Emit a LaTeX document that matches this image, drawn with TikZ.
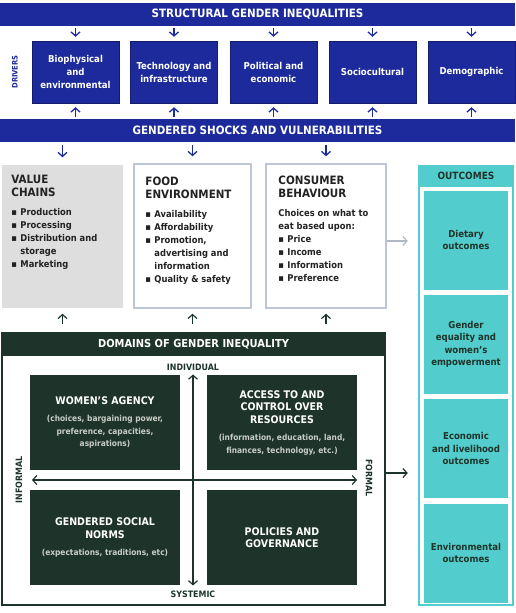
\documentclass[tikz,border=0pt]{standalone}
\usepackage{fontspec}
\setmainfont{DejaVu Sans Condensed}[BoldFont={DejaVu Sans Condensed Bold}]
\usepackage{xcolor}
\usetikzlibrary{arrows.meta, positioning, calc}
\definecolor{driverblue}{RGB}{28,42,155}
\definecolor{domaingreen}{RGB}{30,52,42}
\definecolor{outcometeal}{RGB}{82,204,204}
\definecolor{chaingray}{RGB}{222,222,222}
\definecolor{envborder}{RGB}{188,198,214}
\definecolor{bodytext}{RGB}{34,34,34}
\definecolor{subgray}{RGB}{200,205,200}
\definecolor{linkgray}{RGB}{176,184,200}

\newcommand{\itm}{\makebox[9pt][l]{▪}}
\newcommand{\itc}{\hspace*{9pt}}
\newcommand{\headfont}{\bfseries\fontsize{11.5}{12.5}\selectfont}
\newcommand{\bodyfont}{\bfseries\fontsize{9.3}{13}\selectfont}
\newcommand{\qsub}{\bfseries\fontsize{8.3}{11.5}\selectfont\color{subgray}}

\tikzset{
    bluebar/.style={fill=driverblue, text=white, minimum width=515pt, minimum height=23pt,
        font=\bfseries\fontsize{11.5}{12}\selectfont},
    drvbox/.style={fill=driverblue, draw=driverblue!70!black, text=white, minimum width=87pt,
        minimum height=62pt, font=\bfseries\fontsize{9.5}{13}\selectfont},
    bluearrow/.style={draw=driverblue, line width=1.3pt, -{Straight Barb[length=4pt,width=9pt]}},
    foodbox/.style={minimum height=144pt, line width=1.5pt},
    boxtxt/.style={anchor=north west, align=left, text=bodytext, font=\bodyfont},
    ocbox/.style={fill=outcometeal, minimum width=84pt, minimum height=99pt, text=domaingreen,
        font=\bfseries\fontsize{9.5}{12.5}\selectfont},
    quadbox/.style={fill=domaingreen, minimum width=150pt, minimum height=95pt, text=white,
        font=\bfseries\fontsize{10.5}{12.5}\selectfont},
    axislbl/.style={text=domaingreen, font=\bfseries\fontsize{8.8}{10}\selectfont},
    axisarrow/.style={draw=domaingreen, line width=1.2pt, {Straight Barb[length=4pt,width=9pt]}-{Straight Barb[length=4pt,width=9pt]}}
}

\begin{document}
\begin{tikzpicture}[x=1pt, y=-1pt, every node/.style={align=center, inner sep=0pt}]
    \useasboundingbox (0,0) rectangle (515,613);

    % Structural bars
    \node[bluebar] (sgi) at (257.5,14.5) {STRUCTURAL GENDER INEQUALITIES};
    \node[bluebar] (gsv) at (257.5,130) {GENDERED SHOCKS AND VULNERABILITIES};

    % Drivers
    \node[drvbox] (bio) at (75.5,72) {Biophysical\\and\\environmental};
    \node[drvbox] (tech) at (174,72) {Technology and\\infrastructure};
    \node[drvbox] (pol) at (273.5,72) {Political and\\economic};
    \node[drvbox] (soc) at (372.5,72) {Sociocultural};
    \node[drvbox] (dem) at (471.5,72) {Demographic};
    \node[rotate=90, text=driverblue, font=\bfseries\fontsize{7.5}{9}\selectfont] (drv) at (15,72) {DRIVERS};

    \foreach \d in {bio,tech,pol,soc,dem}{
        \draw[bluearrow, shorten <=2pt, shorten >=4pt] (\d.north |- sgi.south) -- (\d.north);
        \draw[bluearrow, shorten <=1pt, shorten >=4pt] (\d.south |- gsv.north) -- (\d.south);
    }

    % Food system boxes
    \node[foodbox, fill=chaingray, minimum width=121pt, minimum height=143pt] (vc) at (62.5,236.5) {};
    \node[foodbox, draw=envborder, fill=white, minimum width=117pt] (fe) at (192.5,236) {};
    \node[foodbox, draw=envborder, fill=white, minimum width=120pt] (cb) at (326,236) {};

    \node[boxtxt] (vctxt) at ([shift={(10pt,-11pt)}]vc.north west)
        {\headfont VALUE\\ \headfont CHAINS\\[6pt]
         \bodyfont\itm Production\\ \itm Processing\\ \itm Distribution and\\ \itc storage\\ \itm Marketing};
    \node[boxtxt] (fetxt) at ([shift={(12pt,-14pt)}]fe.north west)
        {\headfont FOOD\\ \headfont ENVIRONMENT\\[6pt]
         \bodyfont\itm Availability\\ \itm Affordability\\ \itm Promotion,\\ \itc advertising and\\
         \itc information\\ \itm Quality \& safety};
    \node[boxtxt] (cbtxt) at ([shift={(13pt,-13pt)}]cb.north west)
        {\headfont CONSUMER\\ \headfont BEHAVIOUR\\[6pt]
         \bodyfont Choices on what to\\ eat based upon:\\ \itm Price\\ \itm Income\\
         \itm Information\\ \itm Preference};

    \foreach \b in {vc,fe,cb}{
        \draw[bluearrow, shorten <=3pt, shorten >=7pt] (\b.north |- gsv.south) -- (\b.north);
    }

    % Outcomes
    \node[draw=outcometeal, line width=2.5pt, fill=white, minimum width=94pt, minimum height=439pt] (oc) at (466,385.5) {};
    \node[fill=outcometeal, minimum width=96pt, minimum height=22pt, text=domaingreen,
          font=\bfseries\fontsize{10}{12}\selectfont] (ochead) at (466,176) {OUTCOMES};
    \node[ocbox] (diet) at (466,240) {Dietary\\outcomes};
    \node[ocbox, below=5pt of diet] (gend) {Gender\\equality and\\women’s\\empowerment};
    \node[ocbox, below=5pt of gend] (econ) {Economic\\and livelihood\\outcomes};
    \node[ocbox, below=5pt of econ] (envi) {Environmental\\outcomes};

    \coordinate (cbout) at ([yshift=-5pt]cb.east);
    \draw[linkgray, line width=1.2pt, -{Straight Barb[length=4pt,width=9pt]}, shorten >=10pt]
        (cbout) -- (oc.west |- cbout);

    % Domains of gender inequality
    \node[draw=domaingreen, line width=2pt, fill=white, minimum width=383pt, minimum height=272pt] (dom) at (193.5,469) {};
    \node[fill=domaingreen, text=white, minimum width=383pt, minimum height=23pt,
          font=\bfseries\fontsize{11}{12}\selectfont] (domhead) at (193.5,344.5) {DOMAINS OF GENDER INEQUALITY};

    \foreach \b in {vc,fe,cb}{
        \draw[domaingreen, line width=1.2pt, -{Straight Barb[length=4pt,width=9pt]}, shorten <=8pt, shorten >=5pt]
            (\b.south |- dom.north) -- (\b.south);
    }
    \coordinate (domout) at ([yshift=-4pt]dom.east);
    \draw[domaingreen, line width=1.2pt, -{Straight Barb[length=4pt,width=9pt]}, shorten >=10pt]
        (domout) -- (oc.west |- domout);

    \node[quadbox] (agency) at (105,422.5)
        {WOMEN’S AGENCY\\[5pt]\qsub (choices, bargaining power,\\ \qsub preference, capacities,\\ \qsub aspirations)};
    \node[quadbox] (access) at (282,422.5)
        {ACCESS TO AND\\CONTROL OVER\\RESOURCES\\[5pt]\qsub (information, education, land,\\ \qsub finances, technology, etc.)};
    \node[quadbox] (norms) at (105,537.5)
        {GENDERED SOCIAL\\NORMS\\[5pt]\qsub (expectations, traditions, etc)};
    \node[quadbox] (policy) at (282,537.5) {POLICIES AND\\GOVERNANCE};

    \node[axislbl] (indiv) at (193,367) {INDIVIDUAL};
    \node[axislbl] (syst) at (193,594) {SYSTEMIC};
    \node[axislbl, rotate=90] (informal) at (19,480) {INFORMAL};
    \node[axislbl, rotate=-90] (formal) at (369,478) {FORMAL};
    \coordinate (hleft) at (32,480);
    \coordinate (hright) at (357,480);

    \draw[axisarrow, shorten <=4pt, shorten >=5pt] (indiv.south) -- (syst.north);
    \draw[axisarrow] (hleft) -- (hright);
\end{tikzpicture}
\end{document}
